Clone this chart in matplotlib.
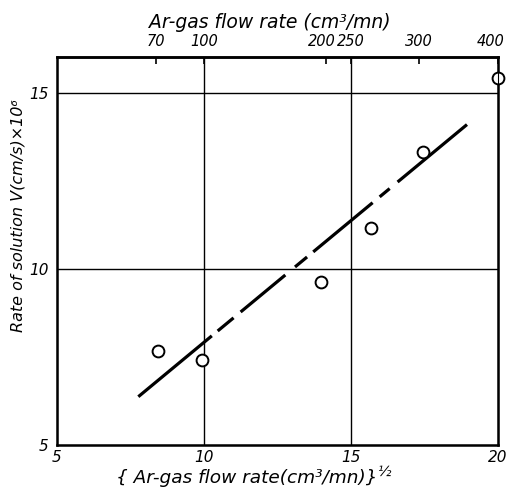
import numpy as np
import matplotlib
matplotlib.use("Agg")
import matplotlib.pyplot as plt
from matplotlib.transforms import ScaledTranslation

# Measured dissolution rate against square root of Ar-gas flow rate
sqrt_flow = [8.45, 9.95, 14.0, 15.7, 17.45, 20.0]
rate = [7.68, 7.40, 9.63, 11.15, 13.32, 15.42]

# Fitted straight line: rate = intercept + slope * sqrt(flow)
fit_slope = 0.691
fit_intercept = 1.00
fit_x_start, fit_x_end = 7.77, 18.95

# Bottom scale ticks
bottom_ticks = [5, 10, 15, 20]
left_ticks = [5, 10, 15]

# Top scale: flow rate in cm3/mn
top_labels = ["70", "100", "200", "250", "300", "400"]
top_flow = [70, 100, 200, 225, 300, 400]

# Drawn pieces of the fitted line (solid with breaks), in sqrt-flow units
fit_pieces = [(7.77, 10.27), (10.47, 11.01), (11.25, 12.77), (13.10, 13.51),
              (13.72, 15.74), (15.98, 16.32), (16.59, 18.95)]

font = dict(family="DejaVu Sans", style="italic")

fig = plt.figure(figsize=(5.08, 4.93), dpi=100)
ax = fig.add_axes([0.112, 0.0975, 0.868, 0.786])
ax.set_xlim(5, 20)
ax.set_ylim(5, 16)

for v in [10, 15]:
    ax.axvline(v, color="black", lw=1.0, zorder=1)
    ax.axhline(v, color="black", lw=1.0, zorder=1)

for a, b in fit_pieces:
    xs = np.array([max(a, fit_x_start), min(b, fit_x_end)])
    ax.plot(xs, fit_intercept + fit_slope * xs, color="black", lw=2.3,
            solid_capstyle="butt", zorder=2)

ax.plot(sqrt_flow, rate, linestyle="none", marker="o", ms=8.5,
        mfc="white", mec="black", mew=1.4, clip_on=False, zorder=3)

for s in ax.spines.values():
    s.set_linewidth(1.8)

ax.set_xticks(bottom_ticks)
ax.set_yticks(left_ticks)
ax.set_xticklabels([str(t) for t in bottom_ticks], fontsize=11, **font)
ax.set_yticklabels([str(t) for t in left_ticks], fontsize=11, **font)
ax.tick_params(axis="x", length=0, pad=4)
ax.tick_params(axis="y", length=0, pad=6)

top = ax.twiny()
top.set_xlim(ax.get_xlim())
top.set_xticks(np.sqrt(top_flow))
top.set_xticklabels(top_labels, fontsize=10.5, **font)
top.tick_params(axis="x", direction="in", length=5, width=1.2, pad=6)
top.spines["top"].set_linewidth(1.8)


def nudge(label, dx_pt):
    label.set_transform(label.get_transform()
                        + ScaledTranslation(dx_pt / 72, 0, fig.dpi_scale_trans))


top_ticklabels = top.get_xticklabels()
nudge(top_ticklabels[2], -2.5)   # small gap between 200 and 250
nudge(top_ticklabels[-1], -5)    # keep 400 inside the figure

top.set_xlabel("Ar-gas flow rate (cm³/mn)", fontsize=13.5, **font)
top.xaxis.set_label_coords(0.483, 1.075)

ax.set_ylabel("Rate of solution V(cm/s)×10⁶", fontsize=11.5, **font)
ax.yaxis.set_label_coords(-0.072, 0.593)

xl = ax.set_xlabel("{ Ar-gas flow rate(cm³/mn)}", fontsize=13.3, **font)
ax.xaxis.set_label_coords(0.43, -0.062)
ax.annotate("½", xy=(1, 0.45), xycoords=xl, xytext=(0, 0),
            textcoords="offset points", fontsize=10, va="bottom", ha="left", **font)

fig.savefig("out.png", dpi=100, facecolor="white")
